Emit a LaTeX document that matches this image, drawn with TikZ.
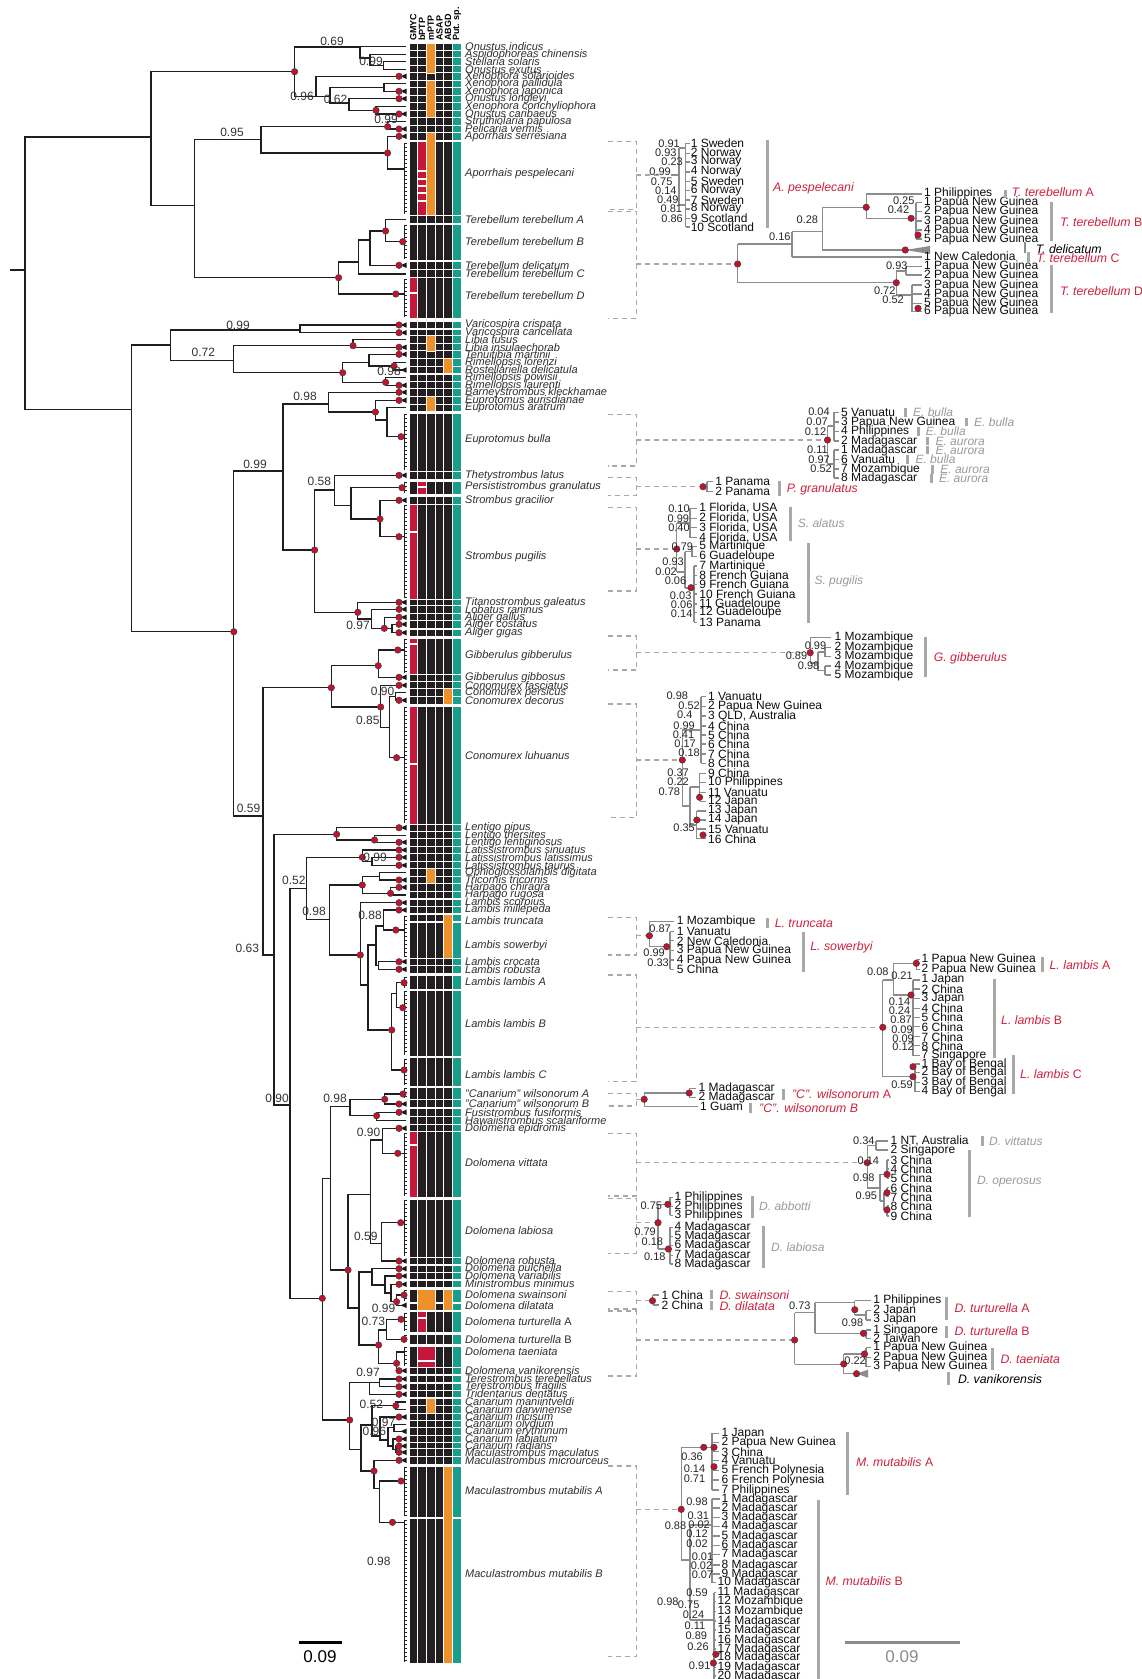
\documentclass[tikz,border=0pt]{standalone}
\usepackage{fontspec}
\setmainfont{Liberation Sans}
\definecolor{cK}{HTML}{231F20}
\definecolor{cR}{HTML}{C4173A}
\definecolor{cO}{HTML}{F0902A}
\definecolor{cT}{HTML}{1A9E8C}
\definecolor{dotc}{HTML}{C8102E}
\definecolor{lgr}{HTML}{8C8C8C}
\definecolor{dgr}{HTML}{A8A8A8}
\definecolor{redl}{HTML}{D0213D}
\definecolor{gryl}{HTML}{9A9A9A}
\tikzset{
 br/.style={line width=1.3pt, draw=black!88},
 sb/.style={line width=1.2pt, draw=lgr},
 dsh/.style={line width=1.2pt, draw=dgr, dash pattern=on 5pt off 4pt},
 splab/.style={anchor=west, inner sep=0pt, font=\fontsize{11}{11}\selectfont\itshape, text=black!82},
 msup/.style={inner sep=0pt, font=\fontsize{12}{12}\selectfont, text=black!80},
 ssup/.style={anchor=east, inner sep=0pt, font=\fontsize{11}{11}\selectfont, text=black!85},
 tiplab/.style={anchor=west, inner sep=0pt, font=\fontsize{12}{12}\selectfont, text=black!95},
 redlab/.style={anchor=west, inner sep=0pt, font=\fontsize{12.3}{13}\selectfont, text=redl},
 grylab/.style={anchor=west, inner sep=0pt, font=\fontsize{12}{13}\selectfont\itshape, text=gryl},
 blklab/.style={anchor=west, inner sep=0pt, font=\fontsize{12.3}{13}\selectfont\itshape, text=black},
 hdr/.style={rotate=90, anchor=west, inner sep=0pt, font=\fontsize{9}{9}\selectfont\bfseries},
 gbar/.style={line width=3pt, draw=dgr},
}
\newcommand{\nd}[5]{\draw[br] (#3,#2) -- (#1,#2) -- (#1,#4) -- (#5,#4);}
\newcommand{\dt}[2]{\filldraw[fill=dotc, draw=black!75, line width=0.6pt] (#1,#2) circle (3.2pt);}
\newcommand{\tri}[1]{\fill[black!90] (400.5,#1) -- (406.5,{#1-2.7}) -- (406.5,{#1+2.7}) -- cycle;}
\newcommand{\tp}[1]{\tri{#1}\dt{399}{#1}}
\newcommand{\blk}[4]{%
 \draw[br] (#3,#4) -- (404,#4);
 \draw[line width=0.9pt, black!88] (404,{#1+1.5}) -- (404,{#2-1.5});
 \pgfmathtruncatemacro{\blkn}{(#2-#1-3)/4}
 \foreach \k in {0,...,\blkn} {\draw[line width=0.7pt, black!88] (404,{#1+1.5+4*\k}) -- (406.8,{#1+1.5+4*\k});}
}
\newcommand{\bk}[2]{%
 \foreach \i in {0,...,4} {\fill[cK, draw=white, line width=0.7pt] ({409+8.7*\i},{#1}) rectangle ({409+8.7*\i+8.7},{#2});}
 \fill[cT, draw=white, line width=0.7pt] (452.8,{#1}) rectangle (461,{#2});
}
\newcommand{\rw}[1]{\bk{#1-3.7}{#1+3.7}}
\newcommand{\ov}[4]{\fill[#4, draw=white, line width=0.7pt] ({409+8.7*(#1-1)},{#2}) rectangle ({409+8.7*#1},{#3});}
\newcommand{\ovw}[5]{\fill[#5, draw=white, line width=0.7pt] ({409+8.7*(#1-1)},{#3}) rectangle ({409+8.7*#2},{#4});}
\newcommand{\brk}[2]{\draw[dsh] (608,#1) -- (636.3,#1) -- (636.3,#2) -- (608,#2);}
\newcommand{\mlab}[2]{\node[splab] at (465,#1) {#2};}
\newcommand{\msp}[3]{\node[msup] at (#1,#2) {#3};}
\newcommand{\sps}[3]{\node[ssup] at (#1,#2) {#3};}
\newcommand{\tlb}[3]{\node[tiplab] at (#1,#2) {#3};}
\newcommand{\gb}[3]{\draw[gbar] (#1,#2) -- (#1,#3);}
\begin{document}
\begin{tikzpicture}[x=1pt,y=-1pt]
\useasboundingbox (0,0) rectangle (1142,1679);
\fill[white] (0,0) rectangle (1142,1679);
% ---------- column headers
\foreach \xx/\hh in {413.3/GMYC,422/bPTP,430.7/mPTP,439.4/ASAP,448.1/ABGD,457/Put. sp.} {\node[hdr] at (\xx,41) {\hh};}
% ---------- matrix
\foreach \yy in {46.7,54.3,61.3,69.3,76.3,83.7,91.3,98.7,106.3,114,121.3,129,136.3,219.3,265.3,273.5,325,332.7,339.3,347.3,354.3,362.3,370,377.7,385.3,392.3,400.3,407.7,475.3,500.3,602.3,609.3,617.3,624.3,632.7,677.3,685.3,692.3,700.3,827.7,835.3,842.3,850,857.3,865.3,872.3,880,887.3,895,902.7,910,918,961.7,969.3,1103.3,1112.3,1120.3,1128.3,1261,1268.7,1276,1284,1370.7,1379,1386.7,1394,1402,1409.3,1417,1424.3,1431.3,1439,1446,1452.3,1460.3} {\rw{\yy}}
\bk{141.7}{215} \bk{224}{260.7} \bk{277.7}{318.3} \bk{413.3}{471.7} \bk{481}{494.3} \bk{504}{599.3}
\bk{638}{674.3} \bk{706}{824.3} \bk{922.7}{958.3} \bk{975.7}{989} \bk{990}{1056} \bk{1057.7}{1086}
\bk{1087}{1099.3} \bk{1131.7}{1197.7} \bk{1199.3}{1257.7} \bk{1289.3}{1302.7} \bk{1303.7}{1310}
\bk{1311.7}{1332.7} \bk{1334}{1344.7} \bk{1346}{1367.3} \bk{1466}{1517.3} \bk{1518.7}{1663.3}
\ov{3}{43}{73}{cO} \ov{3}{80}{117.7}{cO} \ov{3}{132.7}{215}{cO}
\ov{2}{141.7}{170}{cR} \ov{2}{171.2}{178.3}{cR} \ov{2}{179.3}{185.7}{cR} \ov{2}{186.7}{192.7}{cR} \ov{2}{193.7}{200}{cR} \ov{2}{201}{215}{cR}
\ov{1}{277.7}{292}{cR} \ov{1}{293}{318.3}{cR}
\ov{3}{335.7}{350.9}{cO} \ov{5}{358.7}{373.6}{cO} \ov{3}{396.7}{411.3}{cO}
\ov{2}{481}{486.3}{cR} \ov{2}{487.5}{494.3}{cR}
\ov{1}{504}{531.7}{cR} \ov{1}{532.7}{599.3}{cR}
\ov{1}{638}{643.5}{cR} \ov{1}{644.5}{674.3}{cR}
\ov{5}{688.7}{704}{cO}
\ov{1}{706}{763.3}{cR} \ov{1}{764.7}{824.3}{cR}
\ov{3}{868.7}{883.6}{cO} \ov{5}{914.4}{958.3}{cO}
\ov{1}{1131.7}{1144.3}{cR} \ov{1}{1145.7}{1197.7}{cR}
\ovw{2}{3}{1289.3}{1310}{cO} \ov{5}{1289.3}{1310}{cO}
\ov{2}{1311.7}{1317.3}{cR} \ov{2}{1318.3}{1332.7}{cR}
\ovw{2}{3}{1346}{1360}{cR} \ovw{2}{3}{1361.3}{1367.3}{cR}
\ov{3}{1398.4}{1413}{cO} \ov{5}{1466}{1663.3}{cO}
% ---------- main tree
\draw[br] (10,270) -- (25,270);
\nd{25}{137}{151}{409.3}{131.4}
\nd{151}{71.7}{294.6}{205.7}{194.6}
\nd{294.6}{47}{360}{96.7}{316}
\nd{360}{46.7}{406}{58}{370}
\nd{370}{54.3}{406}{65.3}{383.5}
\nd{383.5}{61.3}{406}{69.3}{406}
\nd{316}{76.3}{399}{96.7}{330}
\nd{330}{87.5}{384}{103}{349}
\nd{384}{83.7}{406}{91.3}{399}
\nd{349}{98.7}{399}{110.3}{376}
\nd{376}{106.3}{406}{114}{399}
\nd{194.6}{139.3}{261}{277.7}{338.6}
\nd{261}{126.7}{387.6}{153}{387.6}
\nd{387.6}{121.3}{406}{129}{399}
\nd{387.6}{136.3}{399}{169}{402}
\nd{338.6}{262}{358.6}{294}{395.8}
\nd{358.6}{240}{370}{274}{406}
\nd{370}{231}{385.6}{265.3}{399}
\nd{385.6}{219.3}{406}{241.7}{402.7}
\nd{131.4}{345}{170.5}{631.7}{233.8}
\nd{170.5}{330}{300}{360.7}{233.8}
\nd{300}{325}{399}{332.7}{399}
\nd{233.8}{345.7}{353}{372.7}{342.7}
\nd{353}{339.3}{406}{347.3}{399}
\nd{342.7}{362.3}{369}{382.3}{385.6}
\nd{369}{354.3}{399}{366}{394}
\nd{394}{362.3}{406}{370}{406}
\nd{385.6}{377.7}{406}{385.3}{399}
\nd{233.8}{471}{283}{816}{263}
\nd{283}{404}{328.4}{550}{314.6}
\nd{328.4}{392.3}{399}{412}{375.4}
\nd{375.4}{400.3}{399}{420}{387}
\nd{387}{407.7}{406}{436.7}{401}
\nd{314.6}{490}{334.6}{612.3}{357.8}
\nd{334.6}{475.3}{399}{505.7}{351}
\nd{351}{487.7}{402}{519}{380}
\nd{380}{500.3}{399}{536.7}{399}
\nd{357.8}{602.3}{399}{619}{371.3}
\nd{371.3}{609.3}{399}{628.3}{384.3}
\nd{384.3}{617.3}{399}{628.5}{392}
\nd{392}{624.3}{399}{632.7}{399}
\nd{263}{687.7}{331.3}{955}{274}
\nd{331.3}{665.7}{378.2}{707}{380.7}
\nd{378.2}{650}{397.8}{677.3}{399}
\nd{380.7}{685.3}{399}{727.7}{389.6}
\nd{389.6}{696.3}{395.8}{757.7}{396.6}
\nd{395.8}{692.3}{406}{700.3}{399}
\nd{274}{834.3}{336.6}{1105}{290}
\nd{336.6}{827.7}{399}{840}{374.5}
\nd{374.5}{835.3}{406}{842.3}{399}
\nd{290}{888.3}{306.8}{1298.3}{322.3}
\nd{306.8}{857.3}{362.3}{919.3}{329.7}
\nd{362.3}{850}{399}{861.3}{372}
\nd{372}{857.3}{399}{865.3}{399}
\nd{329.7}{885}{362.3}{955}{360.3}
\nd{362.3}{876.2}{379.4}{893.3}{390.5}
\nd{379.4}{872.3}{406}{880}{399}
\nd{390.5}{887.3}{399}{895}{406}
\nd{360.3}{902.7}{399}{985}{368}
\nd{368}{945}{376}{1030}{391.7}
\nd{376}{926}{383.5}{965.5}{378.6}
\nd{383.5}{910}{399}{930}{395.8}
\nd{378.6}{961.7}{399}{969.3}{399}
\nd{391.7}{993.3}{396.6}{1070}{404}
\nd{396.6}{982.7}{404}{1007.7}{402.7}
\nd{322.3}{1178.3}{330.5}{1420}{349.7}
\nd{330.5}{1106.7}{350}{1270}{348}
\nd{350}{1099.3}{384.7}{1115.7}{376.6}
\nd{384.7}{1094}{403}{1104}{399}
\nd{376.6}{1112.3}{399}{1120.3}{406}
\nd{348}{1194.3}{370.5}{1308}{359}
\nd{370.5}{1140}{382.7}{1243.3}{381.5}
\nd{382.7}{1128.3}{399}{1153.3}{397.8}
\nd{381.5}{1222.7}{400.7}{1261}{399}
\nd{359}{1272}{372}{1345}{378.6}
\nd{372}{1268.7}{399}{1285}{385}
\nd{385}{1276}{399}{1293}{391}
\nd{391}{1284.3}{399}{1301.7}{396.6}
\nd{396.6}{1295}{404}{1305.3}{406}
\nd{378.6}{1330}{386.8}{1363.3}{396.6}
\nd{386.8}{1319.3}{401}{1339.3}{404}
\nd{396.6}{1352}{402}{1370.7}{399}
\nd{349.7}{1382.8}{369.3}{1449.3}{361}
\nd{369.3}{1382.8}{379.4}{1394.3}{399}
\nd{379.4}{1379}{399}{1386.7}{399}
\nd{361}{1425}{372}{1471}{374}
\nd{372}{1405.7}{395.8}{1436}{380}
\nd{395.8}{1402}{406}{1409.3}{406}
\nd{380}{1417}{399}{1440}{388}
\nd{388}{1427.8}{394}{1446}{393}
\nd{394}{1424.3}{406}{1431.3}{406}
\nd{393}{1439}{399}{1449.2}{396}
\nd{396}{1446}{399}{1452.3}{399}
\nd{374}{1460.3}{399}{1488.3}{379.4}
\nd{379.4}{1481}{401}{1522.3}{392.5}
% blocks of many samples
\blk{141.7}{215}{402}{169} \blk{224}{260.7}{402.7}{241.7} \blk{277.7}{318.3}{395.8}{294}
\blk{413.3}{471.7}{401}{436.7} \blk{481}{494.3}{402}{487.7} \blk{504}{599.3}{399}{536.7}
\blk{638}{674.3}{397.8}{650} \blk{706}{824.3}{396.6}{757.7} \blk{914.4}{958.3}{395.8}{930}
\blk{975.7}{989}{404}{982.7} \blk{990}{1056}{402.7}{1007.7} \blk{1057.7}{1086}{404}{1070}
\blk{1087}{1099.3}{403}{1094} \blk{1131.7}{1197.7}{397.8}{1153.3} \blk{1199.3}{1257.7}{400.7}{1222.7}
\blk{1289.3}{1302.7}{404}{1295} \blk{1311.7}{1332.7}{401}{1319.3} \blk{1334}{1344.7}{404}{1339.3}
\blk{1346}{1367.3}{402}{1352} \blk{1466}{1517.3}{401}{1481} \blk{1518.7}{1663.3}{392.5}{1522.3}
% tip markers and node dots
\foreach \yy in {76.3,91.3,98.7,114,129,136.3,265.3,325,332.7,347.3,354.3,385.3,392.3,400.3,475.3,500.3,602.3,609.3,617.3,624.3,632.7,677.3,685.3,700.3,827.7,842.3,850,857.3,865.3,880,887.3,902.7,910,961.7,969.3,1104,1112.3,1128.3,1261,1268.7,1276,1284.3,1370.7,1379,1386.7,1394.3,1417,1439,1446,1452.3,1460.3} {\tp{\yy}}
\tri{1305.3} \tri{1431.3} \tri{370}
\foreach \xx/\yy in {294.6/71.7,376/110.3,387.6/126.7,387.6/153,338.6/277.7,385.6/231,395.8/294,402.7/241.7,353/345.7,342.7/372.7,394/366,385.6/382.3,375.4/412,401/436.7,233.8/631.7,314.6/550,380/519,402/487.7,399/536.7,357.8/612.3,384.3/628.3,397.8/650,378.2/665.7,331.3/687.7,380.7/707,396.6/757.7,336.6/834.3,374.5/840,362.3/857.3,362.3/885,360.3/955,390.5/893.3,395.8/930,391.7/1030,404/982.7,402.7/1007.7,404/1070,384.7/1099.3,403/1094,376.6/1115.7,397.8/1153.3,400.7/1222.7,348/1270,396.6/1301.7,404/1295,378.6/1345,401/1319.3,404/1339.3,396.6/1363.3,322.3/1298.3,349.7/1420,395.8/1405.7,374/1471,401/1481,392.5/1522.3} {\dt{\xx}{\yy}}
% main support values
\msp{332}{41}{0.69} \msp{371}{61}{0.99} \msp{302}{96.7}{0.96} \msp{335.6}{99.3}{0.62}
\msp{386}{119.3}{0.99} \msp{232}{132.7}{0.95} \msp{238}{325}{0.99} \msp{203.4}{352.7}{0.72}
\msp{389}{371.7}{0.98} \msp{305}{396.7}{0.98} \msp{255}{464.3}{0.99} \msp{319.3}{481.7}{0.58}
\msp{358}{625}{0.97} \msp{382.5}{691.7}{0.90} \msp{367.8}{720.7}{0.85} \msp{248.5}{808.3}{0.59}
\msp{375}{857.3}{0.99} \msp{293.8}{880}{0.52} \msp{314}{911.7}{0.98} \msp{370}{915}{0.88}
\msp{247.4}{948.3}{0.63} \msp{277}{1098.3}{0.90} \msp{335}{1098.3}{0.98} \msp{368.6}{1132.7}{0.90}
\msp{365.8}{1236.7}{0.59} \msp{383.5}{1308.3}{0.99} \msp{373.3}{1321.7}{0.73} \msp{368}{1372.7}{0.97}
\msp{371.3}{1404}{0.52} \msp{383.5}{1422.7}{0.97} \msp{374.3}{1431}{0.96} \msp{378.8}{1561}{0.98}
% main species labels
\mlab{46.7}{Onustus indicus} \mlab{54.3}{Aspidophoreas chinensis} \mlab{61.3}{Stellaria solaris}
\mlab{69.3}{Onustus exutus} \mlab{76.3}{Xenophora solarioides} \mlab{83.7}{Xenophora pallidula}
\mlab{91.3}{Xenophora japonica} \mlab{98.7}{Onustus longleyi} \mlab{106.3}{Xenophora conchyliophora}
\mlab{114}{Onustus caribaeus} \mlab{121.3}{Struthiolaria papulosa} \mlab{129}{Pelicaria vermis}
\mlab{136.3}{Aporrhais serresiana} \mlab{174}{Aporrhais pespelecani} \mlab{219.3}{Terebellum terebellum A}
\mlab{242}{Terebellum terebellum B} \mlab{265.3}{Terebellum delicatum} \mlab{274}{Terebellum terebellum C}
\mlab{296}{Terebellum terebellum D} \mlab{325}{Varicospira crispata} \mlab{332.7}{Varicospira cancellata}
\mlab{339.3}{Libia fusus} \mlab{347.3}{Libia insulaechorab} \mlab{354.3}{Tenuitibia martinii}
\mlab{362.3}{Rimellopsis lorenzi} \mlab{370}{Rostellariella delicatula} \mlab{377.7}{Rimellopsis powisii}
\mlab{385.3}{Rimellopsis laurenti} \mlab{392.3}{Barneystrombus kleckhamae} \mlab{400.3}{Euprotomus aurisdianae}
\mlab{407.7}{Euprotomus aratrum} \mlab{440}{Euprotomus bulla} \mlab{475.3}{Thetystrombus latus}
\mlab{486.7}{Persististrombus granulatus} \mlab{500.3}{Strombus gracilior} \mlab{557}{Strombus pugilis}
\mlab{602.3}{Titanostrombus galeatus} \mlab{609.3}{Lobatus raninus} \mlab{617.3}{Aliger gallus}
\mlab{624.3}{Aliger costatus} \mlab{632.7}{Aliger gigas} \mlab{656}{Gibberulus gibberulus}
\mlab{677.3}{Gibberulus gibbosus} \mlab{685.3}{Conomurex fasciatus} \mlab{692.3}{Conomurex persicus}
\mlab{700.3}{Conomurex decorus} \mlab{756}{Conomurex luhuanus} \mlab{827.7}{Lentigo pipus}
\mlab{835.3}{Lentigo thersites} \mlab{842.3}{Lentigo lentiginosus} \mlab{850}{Latissistrombus sinuatus}
\mlab{857.3}{Latissistrombus latissimus} \mlab{865.3}{Latissistrombus taurus} \mlab{872.3}{Ophioglossolambis digitata}
\mlab{880}{Tricornis tricornis} \mlab{887.3}{Harpago chiragra} \mlab{895}{Harpago rugosa}
\mlab{902.7}{Lambis scorpius} \mlab{910}{Lambis millepeda} \mlab{921}{Lambis truncata}
\mlab{946}{Lambis sowerbyi} \mlab{961.7}{Lambis crocata} \mlab{969.3}{Lambis robusta}
\mlab{982}{Lambis lambis A} \mlab{1024}{Lambis lambis B} \mlab{1075}{Lambis lambis C}
\mlab{1093.3}{"Canarium" wilsonorum A} \mlab{1103.3}{"Canarium" wilsonorum B} \mlab{1112.3}{Fusistrombus fusiformis}
\mlab{1120.3}{Hawaiistrombus scalariforme} \mlab{1128.3}{Dolomena epidromis} \mlab{1162.3}{Dolomena vittata}
\mlab{1231}{Dolomena labiosa} \mlab{1261}{Dolomena robusta} \mlab{1268.7}{Dolomena pulchella}
\mlab{1276}{Dolomena variabilis} \mlab{1284}{Ministrombus minimus} \mlab{1295}{Dolomena swainsoni}
\mlab{1305.3}{Dolomena dilatata} \mlab{1322}{Dolomena turturella \upshape A} \mlab{1339.3}{Dolomena turturella \upshape B}
\mlab{1352}{Dolomena taeniata} \mlab{1370.7}{Dolomena vanikorensis} \mlab{1379}{Terestrombus terebellatus}
\mlab{1386.7}{Terestrombus fragilis} \mlab{1394}{Tridentarius dentatus} \mlab{1402}{Canarium maniintveldi}
\mlab{1409.3}{Canarium darwinense} \mlab{1417}{Canarium incisum} \mlab{1424.3}{Canarium olydium}
\mlab{1431.3}{Canarium erythrinum} \mlab{1439}{Canarium labiatum} \mlab{1446}{Canarium radians}
\mlab{1452.3}{Maculastrombus maculatus} \mlab{1460.3}{Maculastrombus microurceus}
\mlab{1491}{Maculastrombus mutabilis A} \mlab{1573.3}{Maculastrombus mutabilis B}
% scale bar (main)
\draw[line width=3.4pt, black] (299,1642.7) -- (342,1642.7);
\node[inner sep=0pt, font=\fontsize{17}{17}\selectfont] at (320,1657) {0.09};
% ---------- dashed brackets
\brk{141.7}{209.3} \brk{211.7}{318.3} \brk{414.3}{466} \brk{477.7}{495.7} \brk{507.7}{591}
\brk{636}{670} \brk{704}{817.7} \brk{917.3}{955} \brk{975}{1081.7} \brk{1093.3}{1106}
\brk{1133.3}{1196} \brk{1198.5}{1253.3} \brk{1291.7}{1309} \brk{1311}{1376} \brk{1466}{1656.7}
% ---------- A. pespelecani
\draw[dsh] (636.3,175) -- (660,175);
\draw[sb] (671,175) -- (679,175) (679,148) -- (679,205) (679,148) -- (685.5,148) (679,205) -- (685.5,205) (685.5,143.3) -- (685.5,227);
\foreach \yy in {143.3,153.3,162,172,181.3,190.3,200,209,218.3,227} {\draw[sb] (685.5,\yy) -- (689.5,\yy);}
\foreach \xx/\yy/\vv in {680/143.3/0.91,676.7/153/0.93,683/162/0.23,671/172/0.99,672.6/181.3/0.75,676.7/190.3/0.14,678.8/200/0.49,682.3/209/0.81,683/218.3/0.86} {\sps{\xx}{\yy}{\vv}}
\foreach \yy/\tx in {143.3/1 Sweden,153.3/2 Norway,162/3 Norway,172/4 Norway,181.3/5 Sweden,190.3/6 Norway,200/7 Sweden,209/8 Norway,218.3/9 Scotland,227/10 Scotland} {\tlb{690.6}{\yy}{\tx}}
\gb{767.7}{140}{228}
\node[redlab] at (772.9,188.3) {\itshape A. pespelecani};
% ---------- Terebellum
\draw[dsh] (636.3,264) -- (737.6,264);
\draw[sb] (737.6,244) -- (737.6,282.7) (737.6,244) -- (791.9,244) (791.9,231.7) -- (791.9,257) (791.9,231.7) -- (822.3,231.7) (822.3,207.3) -- (822.3,250) (822.3,207.3) -- (866.2,207.3) (866.2,194) -- (866.2,218.3) (866.2,194) -- (922,194) (866.2,218.3) -- (916,218.3) (916,202.7) -- (916,239) (822.3,250) -- (905.3,250) (791.9,257) -- (922,257);
\foreach \yy in {202.7,211.7,221,230,239} {\draw[sb] (916,\yy) -- (922,\yy);}
\fill[lgr] (905.3,250) -- (930,246) -- (930,254) -- cycle;
\draw[sb] (737.6,282.7) -- (896.3,282.7) (896.3,271) -- (896.3,295) (896.3,271) -- (906,271) (906,266.7) -- (906,275) (896.3,295) -- (912,295) (912,285) -- (912,311.7);
\foreach \yy in {266.7,275} {\draw[sb] (906,\yy) -- (922,\yy);}
\foreach \yy in {285,294,303.3,311.7} {\draw[sb] (912,\yy) -- (922,\yy);}
\dt{737.6}{264} \dt{866.2}{207.3} \dt{911.1}{218.3} \dt{918}{235} \dt{905.3}{250} \dt{896.3}{282.7} \dt{918}{308.3}
\node[ssup, anchor=center] at (779.8,236.7) {0.16};
\node[ssup, anchor=center] at (807.4,220) {0.28};
\sps{914.6}{201}{0.25} \sps{909.4}{210}{0.42} \sps{907.7}{265.7}{0.93} \sps{895.6}{290.7}{0.72} \sps{904}{300}{0.52}
\foreach \yy/\tx in {193.3/1 Philippines,202.7/1 Papua New Guinea,211.7/2 Papua New Guinea,221/3 Papua New Guinea,230/4 Papua New Guinea,239/5 Papua New Guinea,256.7/1 New Caledonia,266.7/1 Papua New Guinea,275/2 Papua New Guinea,285/3 Papua New Guinea,294/4 Papua New Guinea,303.3/5 Papua New Guinea,311.7/6 Papua New Guinea} {\tlb{924}{\yy}{\tx}}
\gb{1005}{190}{197.5} \node[redlab] at (1011.4,191.7) {\textit{T. terebellum} A};
\gb{1051}{202}{241} \node[redlab] at (1059.8,222) {\textit{T. terebellum} B};
\draw[line width=1.2pt, lgr] (1025,241.7) -- (1025,253.3); \node[blklab] at (1035.6,249) {T. delicatum};
\gb{1028.7}{251.7}{261.7} \node[redlab] at (1036.3,258) {\textit{T. terebellum} C};
\gb{1051}{265}{313} \node[redlab] at (1059.8,290.7) {\textit{T. terebellum} D};
% ---------- E. bulla
\draw[dsh] (636.3,440) -- (827.5,440);
\draw[sb] (827.5,426) -- (827.5,464) (827.5,426) -- (834,426) (827.5,464) -- (834,464) (834,412.3) -- (834,441) (834,450) -- (834,478);
\foreach \yy in {412.3,422,431.3,441,450,459.7,469,478} {\draw[sb] (834,\yy) -- (839,\yy);}
\dt{827.5}{440}
\sps{829.9}{412}{0.04} \sps{828}{422}{0.07} \sps{826.4}{431.5}{0.12} \sps{828}{450}{0.11} \sps{830}{459.7}{0.97} \sps{832}{469}{0.52}
\foreach \yy/\tx in {412.3/5 Vanuatu,422/3 Papua New Guinea,431.3/4 Philippines,441/2 Madagascar,450/1 Madagascar,459.7/6 Vanuatu,469/7 Mozambique,478/8 Madagascar} {\tlb{841}{\yy}{\tx}}
\foreach \xx/\yy/\tx in {905.3/412.7/E. bulla,966.4/422/E. bulla,918/431.7/E. bulla,927.7/441/E. aurora,927.7/450/E. aurora,907.7/459.7/E. bulla,932.6/469.7/E. aurora,931.2/478.7/E. aurora} {\gb{\xx}{\yy-4.3}{\yy+4.3} \node[grylab] at (\xx+7.6,\yy) {\tx};}
% ---------- P. granulatus
\draw[dsh] (636.3,486.7) -- (703,486.7);
\draw[sb] (703,486.7) -- (707,486.7) (707,481.7) -- (707,491.7) (707,481.7) -- (713,481.7) (707,491.7) -- (713,491.7);
\dt{703}{486.7}
\tlb{715.1}{481.7}{1 Panama} \tlb{715.1}{491.7}{2 Panama}
\gb{779}{481}{496} \node[redlab] at (786.7,489) {\itshape P. granulatus};
% ---------- S. pugilis
\draw[dsh] (636.3,549) -- (676.7,549);
\draw[sb] (676.7,523) -- (676.7,572) (676.7,523) -- (690,523) (690,508.3) -- (690,537.7) (676.7,572) -- (685,572) (685,551.7) -- (685,588) (685,551.7) -- (692,551.7) (692,546.7) -- (692,556.7) (685,588) -- (694,588) (694,566) -- (694,622.3);
\foreach \yy in {508.3,518.3,527.7,537.7} {\draw[sb] (690,\yy) -- (697,\yy);}
\foreach \yy in {546.7,556.7} {\draw[sb] (692,\yy) -- (697,\yy);}
\foreach \yy in {566,575.7,584.7,594,604,612.7,622.3} {\draw[sb] (694,\yy) -- (697,\yy);}
\dt{676.7}{549} \dt{691}{587.7}
\foreach \xx/\yy/\vv in {689.9/508.3/0.10,689.2/518.3/0.99,689.9/527.7/0.40,693.3/546.7/0.79,684/562/0.93,677/572/0.02,686.4/581/0.06,691.6/595.7/0.03,692.6/605/0.06,692.6/613.7/0.14} {\sps{\xx}{\yy}{\vv}}
\tlb{699.2}{508.3}{1 Florida, USA} \tlb{699.2}{518.3}{2 Florida, USA} \tlb{699.2}{527.7}{3 Florida, USA} \tlb{699.2}{537.7}{4 Florida, USA}
\foreach \yy/\tx in {546.7/5 Martinique,556.7/6 Guadeloupe,566/7 Martinique,575.7/8 French Guiana,584.7/9 French Guiana,594/10 French Guiana,604/11 Guadeloupe,612.7/12 Guadeloupe,622.3/13 Panama} {\tlb{699.2}{\yy}{\tx}}
\gb{790}{507}{541} \node[grylab] at (797.7,523.3) {S. alatus};
\gb{808.5}{543}{623} \node[grylab] at (814.3,581.3) {S. pugilis};
% ---------- G. gibberulus
\draw[dsh] (636.3,652.7) -- (810.2,652.7);
\draw[sb] (810.2,637.7) -- (810.2,663) (810.2,637.7) -- (831,637.7) (810.2,663) -- (818,663) (818,652) -- (818,670.5) (818,652) -- (825,652) (825,647.7) -- (825,656.7) (818,670.5) -- (825,670.5) (825,666) -- (825,675);
\foreach \yy in {647.7,656.7,666,675} {\draw[sb] (825,\yy) -- (831,\yy);}
\dt{810.2}{652.7}
\sps{826.4}{646}{0.99} \sps{807.4}{656}{0.89} \sps{819.5}{665.3}{0.98}
\foreach \yy/\tx in {637.7/1 Mozambique,647.7/2 Mozambique,656.7/3 Mozambique,666/4 Mozambique,675/5 Mozambique} {\tlb{834.4}{\yy}{\tx}}
\gb{925}{637}{677} \node[redlab] at (933.6,658) {\itshape G. gibberulus};
% ---------- C. luhuanus
\draw[dsh] (636.3,760) -- (682.3,760);
\draw[sb] (682.3,730) -- (682.3,806) (682.3,730) -- (701,730) (701,696.7) -- (701,763.3) (682.3,806) -- (690,806) (690,787) -- (690,825) (690,787) -- (699.6,787) (699.6,773.3) -- (699.6,801.3) (690,825) -- (696.8,825) (696.8,811) -- (696.8,838.7);
\foreach \yy in {696.7,706.7,716,726,735,744,754,763.3} {\draw[sb] (701,\yy) -- (706,\yy);}
\foreach \yy in {773.3,782.3,792.3,801.3} {\draw[sb] (699.6,\yy) -- (706,\yy);}
\foreach \yy in {811,820,829,838.7} {\draw[sb] (696.8,\yy) -- (706,\yy);}
\dt{682.3}{760} \dt{699.6}{797.3} \dt{696.8}{820} \dt{703}{835}
\foreach \xx/\yy/\vv in {688.2/696/0.98,700/705.7/0.52,692.6/715/0.4,695/726/0.99,694.4/735/0.41,696/744/0.17,700/753/0.18,689/773/0.37,689/781.7/0.22,680.2/791.7/0.78,695/827.7/0.35} {\sps{\xx}{\yy}{\vv}}
\foreach \yy/\tx in {696.7/1 Vanuatu,706.7/2 Papua New Guinea,726/4 China,735/5 China,744/6 China,754/7 China,763.3/8 China,773.3/9 China,782.3/10 Philippines,792.3/11 Vanuatu,801.3/12 Japan,811/13 Japan,820/14 Japan,829/15 Vanuatu,838.7/16 China} {\tlb{707.9}{\yy}{\tx}}
\tlb{707.9}{716}{3 QLD, Australia}
% ---------- L. truncata / sowerbyi
\draw[dsh] (636.3,935.7) -- (649.4,935.7);
\draw[sb] (649.4,921.7) -- (649.4,946.7) (649.4,921.7) -- (674,921.7) (649.4,946.7) -- (670,946.7) (670,931.7) -- (670,969.3);
\foreach \yy in {931.7,940.7,950.7,960,969.3} {\draw[sb] (670,\yy) -- (674,\yy);}
\dt{649.4}{935.7} \dt{666.7}{946.7}
\sps{671}{928.3}{0.87} \sps{665}{952.3}{0.99} \sps{669}{962.7}{0.33}
\foreach \yy/\tx in {921.7/1 Mozambique,931.7/1 Vanuatu,940.7/2 New Caledonia,950.7/3 Papua New Guinea,960/4 Papua New Guinea,969.3/5 China} {\tlb{676.7}{\yy}{\tx}}
\gb{767}{918}{928} \node[redlab] at (774.6,923.7) {\itshape L. truncata};
\gb{803.3}{932}{972} \node[redlab] at (810.2,947.7) {\itshape L. sowerbyi};
% ---------- L. lambis
\draw[dsh] (636.3,1027.3) -- (882.8,1027.3);
\draw[sb] (882.8,980) -- (882.8,1076.7) (882.8,980) -- (893.2,980) (893.2,963.3) -- (893.2,995) (893.2,963.3) -- (916.3,963.3) (916.3,959.3) -- (916.3,969.3) (893.2,995) -- (913,995) (913,980) -- (913,1055.7) (882.8,1076.7) -- (915,1076.7) (915,1064) -- (915,1091.7);
\foreach \yy in {959.3,969.3} {\draw[sb] (916.3,\yy) -- (920,\yy);}
\foreach \yy in {980,989,998.3,1008.3,1017.3,1026.7,1036.7,1045.7,1055.7} {\draw[sb] (913,\yy) -- (920,\yy);}
\foreach \yy in {1064,1072.7,1082.7,1091.7} {\draw[sb] (915,\yy) -- (920,\yy);}
\dt{882.8}{1027.3} \dt{916.3}{963.3} \dt{911}{995} \dt{912.9}{1076.7} \dt{913}{1066.7}
\foreach \xx/\yy/\vv in {888.7/971.7/0.08,912.9/975.7/0.21,910.4/1001.7/0.14,910.4/1010.7/0.24,912/1020/0.87,912.9/1029.3/0.09,914/1038.3/0.09,914/1047/0.12,912.9/1085/0.59} {\sps{\xx}{\yy}{\vv}}
\foreach \yy/\tx in {959.3/1 Papua New Guinea,969.3/2 Papua New Guinea,980/1 Japan,989/2 China,998.3/3 Japan,1008.3/4 China,1017.3/5 China,1026.7/6 China,1036.7/7 China,1045.7/8 China,1055.7/7 Singapore,1064/1 Bay of Bengal,1072.7/2 Bay of Bengal,1082.7/3 Bay of Bengal,1091.7/4 Bay of Bengal} {\tlb{921.5}{\yy}{\tx}}
\gb{1042.5}{957}{972} \node[redlab] at (1049.4,964.7) {\textit{L. lambis} A};
\gb{994}{979}{1058} \node[redlab] at (1001,1020) {\textit{L. lambis} B};
\gb{1013}{1055}{1094} \node[redlab] at (1020,1074) {\textit{L. lambis} C};
% ---------- "C." wilsonorum
\draw[dsh] (636.3,1099.3) -- (644.2,1099.3);
\draw[sb] (644.2,1093) -- (644.2,1106.7) (644.2,1093) -- (689.2,1093) (689.2,1088.3) -- (689.2,1097.3) (689.2,1088.3) -- (696,1088.3) (689.2,1097.3) -- (696,1097.3) (644.2,1106.7) -- (698,1106.7);
\dt{644.2}{1099.3} \dt{689.2}{1093}
\tlb{698.5}{1088.3}{1 Madagascar} \tlb{698.5}{1097.3}{2 Madagascar} \tlb{700}{1106.7}{1 Guam}
\gb{783.2}{1089}{1100} \node[redlab] at (791.9,1094.3) {\itshape "C". wilsonorum \upshape A};
\gb{750.4}{1103}{1113} \node[redlab] at (759,1108.3) {\itshape "C". wilsonorum B};
% ---------- D. vittata
\draw[dsh] (636.3,1162.7) -- (867.2,1162.7);
\draw[sb] (867.2,1145.5) -- (867.2,1188) (867.2,1145.5) -- (876,1145.5) (876,1141) -- (876,1150) (876,1141) -- (888,1141) (876,1150) -- (888,1150) (867.2,1188) -- (880,1188) (880,1174.3) -- (880,1201) (880,1174.3) -- (887,1174.3) (887,1160) -- (887,1178) (880,1201) -- (884,1201) (884,1192.7) -- (884,1210) (884,1192.7) -- (887,1192.7) (887,1187.7) -- (887,1196.7) (884,1210) -- (887,1210) (887,1206) -- (887,1216);
\foreach \yy in {1160,1169,1178,1187.7,1196.7,1206,1216} {\draw[sb] (887,\yy) -- (889,\yy);}
\dt{867.2}{1162.7} \dt{887}{1174.3} \dt{887}{1192.7} \dt{887}{1210}
\sps{874.8}{1141}{0.34} \sps{879.3}{1160.7}{0.14} \sps{874.8}{1177.3}{0.98} \sps{877.3}{1196}{0.95}
\tlb{890.4}{1141}{1 NT, Australia}
\foreach \yy/\tx in {1150/2 Singapore,1160/3 China,1169/4 China,1178/5 China,1187.7/6 China,1196.7/7 China,1206/8 China,1216/9 China} {\tlb{890.4}{\yy}{\tx}}
\gb{982}{1136}{1146} \node[grylab] at (989,1141) {D. vittatus};
\gb{969.2}{1150}{1217} \node[grylab] at (976.8,1182) {D. operosus};
% ---------- D. labiosa
\draw[dsh] (636.3,1222.7) -- (658,1222.7);
\draw[sb] (658,1204.3) -- (658,1249) (658,1204.3) -- (670,1204.3) (670,1197.3) -- (670,1215.3) (658,1249) -- (670,1249) (670,1227.3) -- (670,1264);
\foreach \yy in {1197.3,1206.7,1215.3,1227.3,1236.7,1245.3,1255.3,1264} {\draw[sb] (670,\yy) -- (672.5,\yy);}
\dt{658}{1222.7} \dt{667.8}{1204.3} \dt{668.4}{1249}
\sps{662.2}{1205.7}{0.75} \sps{656}{1231.7}{0.79} \sps{663.3}{1241.7}{0.18} \sps{665.7}{1256.7}{0.18}
\foreach \yy/\tx in {1197.3/1 Philippines,1206.7/2 Philippines,1215.3/3 Philippines,1227.3/4 Madagascar,1236.7/5 Madagascar,1245.3/6 Madagascar,1255.3/7 Madagascar,1264/8 Madagascar} {\tlb{674.3}{\yy}{\tx}}
\gb{752}{1196}{1218} \node[grylab] at (759,1206) {D. abbotti};
\gb{763.5}{1226}{1268} \node[grylab] at (771,1247) {D. labiosa};
% ---------- D. swainsoni / dilatata
\draw[dsh] (636.3,1300.7) -- (652.5,1300.7);
\draw[sb] (652.5,1295) -- (652.5,1305) (652.5,1295) -- (659,1295) (652.5,1305) -- (659,1305);
\dt{652.5}{1300.7}
\tlb{661.5}{1295}{1 China} \tlb{661.5}{1305}{2 China}
\gb{711.3}{1290}{1299} \node[redlab] at (719.3,1295.3) {\itshape D. swainsoni};
\gb{711.3}{1301}{1310} \node[redlab] at (719.3,1306) {\itshape D. dilatata};
% ---------- D. turturella / taeniata
\draw[dsh] (636.3,1340) -- (794.6,1340);
\draw[sb] (794.6,1312.7) -- (794.6,1364.3) (794.6,1312.7) -- (815,1312.7) (815,1302.7) -- (815,1333.3) (815,1302.7) -- (854.8,1302.7) (854.8,1300.7) -- (854.8,1315) (854.8,1300.7) -- (871,1300.7) (854.8,1315) -- (866,1315) (866,1310.7) -- (866,1320) (815,1333.3) -- (866,1333.3) (866,1330) -- (866,1338.3) (794.6,1364.3) -- (843.7,1364.3) (843.7,1354) -- (843.7,1373.7) (843.7,1354) -- (866,1354) (866,1347.7) -- (866,1366.7) (843.7,1373.7) -- (856.5,1373.7);
\foreach \yy in {1310.7,1320,1330,1338.3,1347.7,1357.7,1366.7} {\draw[sb] (866,\yy) -- (871,\yy);}
\fill[lgr] (856.5,1373.7) -- (868,1369.7) -- (868,1377.7) -- cycle;
\dt{794.6}{1340} \dt{854.8}{1309.7} \dt{863.4}{1333.3} \dt{843.7}{1364} \dt{864.5}{1354} \dt{856.5}{1373.7}
\node[ssup, anchor=center] at (799.8,1306) {0.73};
\sps{863.4}{1322.7}{0.98} \sps{866}{1360.7}{0.22}
\foreach \yy/\tx in {1300.7/1 Philippines,1310.7/2 Japan,1320/3 Japan,1330/1 Singapore,1338.3/2 Taiwan,1347.7/1 Papua New Guinea,1357.7/2 Papua New Guinea,1366.7/3 Papua New Guinea} {\tlb{873.1}{\yy}{\tx}}
\gb{946.7}{1297}{1320} \node[redlab] at (954.3,1308) {\textit{D. turturella} A};
\gb{946.7}{1326}{1338} \node[redlab] at (954.3,1331) {\textit{D. turturella} B};
\gb{992.4}{1348}{1370} \node[redlab] at (1000.3,1359) {\itshape D. taeniata};
\gb{948.5}{1372}{1385} \node[blklab] at (957.8,1379) {D. vanikorensis};
% ---------- M. mutabilis
\draw[dsh] (636.3,1509.3) -- (681.2,1509.3);
\draw[sb] (681.2,1447.3) -- (681.2,1560) (681.2,1447.3) -- (712,1447.3) (712,1433.3) -- (712,1490) (681.2,1560) -- (690,1560) (690,1525) -- (690,1620) (690,1525) -- (712,1525) (712,1499) -- (712,1582.7) (690,1620) -- (714,1620) (714,1592.7) -- (714,1679);
\foreach \yy in {1433.3,1442.7,1451.7,1460.7,1470.7,1480,1490} {\draw[sb] (712,\yy) -- (719,\yy);}
\foreach \yy in {1499,1508,1517.7,1526.7,1536,1545.7,1554.7,1565,1574} {\draw[sb] (712,\yy) -- (719.5,\yy);}
\draw[sb] (712,1582.7) -- (715.5,1582.7);
\foreach \yy in {1592.7,1601.7,1611.7,1621,1630,1640,1649,1657.7,1667.3,1676} {\draw[sb] (714,\yy) -- (715.5,\yy);}
\dt{681.2}{1509.3} \dt{703.7}{1447.3} \dt{714}{1447.3} \dt{714}{1466.7} \dt{715.8}{1654.3} \dt{713.4}{1663}
\foreach \xx/\yy/\vv in {703/1456.7/0.36,705.4/1468.3/0.14,705.4/1479/0.71,707.9/1501.7/0.98,709.2/1516/0.31,686.4/1526/0.88,710/1525/0.02,707.9/1534/0.12,707.9/1543.7/0.02,713.4/1556.7/0.01,712.4/1566/0.02,713.4/1575/0.07,707.9/1592.7/0.59,678.8/1601.7/0.98,699.6/1604.3/0.75,704.4/1615/0.24,705.4/1625.7/0.11,707.2/1635.7/0.89,708.9/1646.7/0.26,710.6/1666/0.91} {\sps{\xx}{\yy}{\vv}}
\foreach \yy/\tx in {1433.3/1 Japan,1442.7/2 Papua New Guinea,1451.7/3 China,1460.7/4 Vanuatu,1470.7/5 French Polynesia,1480/6 French Polynesia,1490/7 Philippines,1499/1 Madagascar,1508/2 Madagascar,1517.7/3 Madagascar,1526.7/4 Madagascar,1536/5 Madagascar,1545.7/6 Madagascar,1554.7/7 Madagascar,1565/8 Madagascar,1574/9 Madagascar} {\tlb{721.5}{\yy}{\tx}}
\foreach \yy/\tx in {1582.7/10 Madagascar,1592.7/11 Madagascar,1601.7/12 Mozambique,1611.7/13 Mozambique,1621/14 Madagascar,1630/15 Madagascar,1640/16 Madagascar,1649/17 Madagascar,1657.7/18 Madagascar,1667.3/19 Madagascar,1676/20 Madagascar} {\tlb{717.5}{\yy}{\tx}}
\gb{847.9}{1432}{1495} \node[redlab] at (855.8,1462) {\textit{M. mutabilis} A};
\gb{818.5}{1500}{1679} \node[redlab] at (825.4,1581) {\textit{M. mutabilis} B};
% scale bar (insets)
\draw[line width=3.4pt, lgr] (845.4,1642.7) -- (959.5,1642.7);
\node[inner sep=0pt, text=lgr, font=\fontsize{17}{17}\selectfont] at (902,1657) {0.09};
\end{tikzpicture}
\end{document}
